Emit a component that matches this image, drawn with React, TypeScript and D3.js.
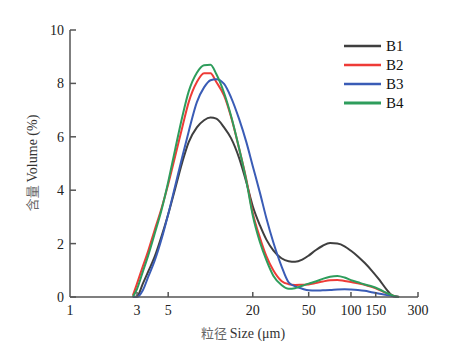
import React from "react";
import * as d3 from "d3";

const sizes = [2.8, 3, 3.3, 3.6, 4, 4.5, 5, 5.6, 6.3, 7, 8, 9, 10, 11, 12.5, 14, 16, 18, 20, 22.5, 25, 28, 32, 36, 40, 45, 50, 56, 63, 71, 80, 90, 100, 112, 125, 140, 160, 180, 200, 220];

const B1 = [0, 0.02, 0.5, 0.95, 1.5, 2.3, 3.1, 4.05, 5.05, 5.8, 6.35, 6.62, 6.72, 6.68, 6.35, 5.95, 5.2, 4.3, 3.4, 2.68, 2.15, 1.75, 1.45, 1.34, 1.32, 1.4, 1.55, 1.75, 1.92, 2.02, 2.0, 1.9, 1.73, 1.52, 1.28, 1.0, 0.63, 0.27, 0.03, 0];
const B2 = [0.05, 0.5, 1.15, 1.72, 2.5, 3.35, 4.22, 5.26, 6.36, 7.3, 8.05, 8.38, 8.38, 8.05, 7.54, 6.75, 5.55, 4.4, 3.15, 2.22, 1.53, 1.0, 0.6, 0.48, 0.45, 0.46, 0.47, 0.52, 0.58, 0.63, 0.64, 0.6, 0.56, 0.51, 0.46, 0.38, 0.26, 0.14, 0.05, 0];
const B3 = [0, 0, 0.25, 0.75, 1.35, 2.2, 3.1, 4.15, 5.25, 6.2, 7.3, 7.85, 8.12, 8.16, 7.98, 7.48, 6.66, 5.8, 4.9, 3.9, 2.95, 2.05, 1.16, 0.55, 0.4, 0.31, 0.25, 0.24, 0.25, 0.26, 0.28, 0.29, 0.28, 0.26, 0.23, 0.18, 0.12, 0.07, 0.03, 0];
const B4 = [0, 0.3, 0.95, 1.55, 2.36, 3.3, 4.31, 5.52, 6.75, 7.7, 8.4, 8.68, 8.7, 8.35, 7.64, 6.79, 5.56, 4.35, 3.05, 2.05, 1.38, 0.8, 0.45, 0.31, 0.33, 0.42, 0.5, 0.58, 0.68, 0.76, 0.79, 0.73, 0.63, 0.55, 0.47, 0.4, 0.28, 0.15, 0.05, 0];

const seriesNames = ["B1", "B2", "B3", "B4"];
const seriesColors = ["#3f3f3f", "#ee3b37", "#3a5cb6", "#2e9d5c"];
const xTicks = [1, 3, 5, 20, 50, 100, 150, 300];
const yTicks = [0, 2, 4, 6, 8, 10];

export default function App() {
  const W = 458, H = 355;
  const x = d3.scaleLog().domain([1, 300]).range([70, 418]);
  const y = d3.scaleLinear().domain([0, 10]).range([297, 30]);
  const all = [B1, B2, B3, B4];
  const line = d3
    .line<number>()
    .x((_, i) => x(sizes[i]))
    .y((v) => y(v))
    .curve(d3.curveMonotoneX);
  const serif = "'Liberation Serif', 'Times New Roman', serif";
  const cjk = "'Noto Sans CJK SC', sans-serif";
  const axisColor = "#555";
  return (
    <svg width={W} height={H} style={{ position: "absolute", left: 0, top: 0, background: "#fff" }}>
      {all.map((s, k) => (
        <path key={k} d={line(s) || ""} fill="none" stroke={seriesColors[k]} strokeWidth={2} strokeLinejoin="round" />
      ))}
      <line x1={70} x2={70} y1={y(10)} y2={y(0)} stroke={axisColor} strokeWidth={1.5} />
      <line x1={70} x2={418} y1={y(0)} y2={y(0)} stroke={axisColor} strokeWidth={1.5} />
      {yTicks.map((t) => (
        <g key={t}>
          <line x1={70} x2={76} y1={y(t)} y2={y(t)} stroke={axisColor} strokeWidth={1.5} />
          <text x={64} y={y(t) + 5} textAnchor="end" fontFamily={serif} fontSize={14} fill="#222">
            {t}
          </text>
        </g>
      ))}
      {xTicks.map((t) => (
        <g key={t}>
          {t !== 1 && (
            <line x1={x(t)} x2={x(t)} y1={y(0)} y2={y(0) - 5} stroke={axisColor} strokeWidth={1.5} />
          )}
          <text x={x(t)} y={315} textAnchor="middle" fontFamily={serif} fontSize={14} fill="#222">
            {t}
          </text>
        </g>
      ))}
      <text x={243} y={338} textAnchor="middle" fontSize={14} fill="#333">
        <tspan fontFamily={cjk} fill="#666" fontSize={13}>粒径 </tspan>
        <tspan fontFamily={serif}>Size (μm)</tspan>
      </text>
      <text transform="translate(37,163) rotate(-90)" textAnchor="middle" fontSize={14} fill="#333">
        <tspan fontFamily={cjk} fill="#666" fontSize={13}>含量 </tspan>
        <tspan fontFamily={serif}>Volume (%)</tspan>
      </text>
      {seriesNames.map((n, k) => (
        <g key={n}>
          <line x1={344} x2={381} y1={46 + k * 19} y2={46 + k * 19} stroke={seriesColors[k]} strokeWidth={k === 3 ? 3 : 2.5} />
          <text x={386} y={46 + k * 19 + 5} fontFamily={serif} fontSize={15} fill="#111">
            {n}
          </text>
        </g>
      ))}
    </svg>
  );
}
